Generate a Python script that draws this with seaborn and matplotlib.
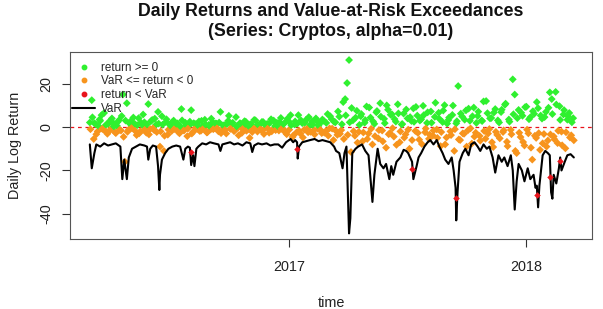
import numpy as np
import pandas as pd
import matplotlib
matplotlib.use("Agg")
import matplotlib.pyplot as plt
import seaborn as sns
from matplotlib.lines import Line2D

# all dates are stored as days after 2017-01-01
origin = pd.Timestamp("2017-01-01")

# daily log returns, two interleaved readings (every 3rd day) starting 2016-02-29
ret_step = 3
ret_first_day_a = -307
ret_first_day_b = -306

returns_a_2016a = [2.1, 12.4, -5.5, 1.3, -2.0, 3.5, 5.5, -1.2, 0.8, -3.1, 2.6, -0.7,
                   1.9, -2.4, 0.5, 3.2, -1.6, 15.0, -16.0, 11.0, -1.1, 2.8, -0.4, 1.5,
                   -3.7, 4.1, -1.9, 0.9, 2.2, -2.6, 10.6, -0.9, 3.3, -1.4, 1.1, 7.0]
returns_a_2016b = [-9.0, 5.0, -11.0, 2.4, -3.5, 1.2, -1.8, 3.0, -0.6, 1.7, -2.9, 8.3,
                   -1.3, 2.0, -4.2, 0.7, 7.8, -2.2, 1.4, -0.9, 2.6, -1.7, 0.4, 3.4,
                   -2.5, 1.0, -1.1, 2.2, -0.5, 1.6, -2.0, 7.0, -1.5, 0.9, -3.0, 2.9,
                   -0.8, 1.3, -1.9, 4.6, -0.3, 1.8, -2.7, 0.6, 2.5, -1.2, -5.0, 1.1,
                   -0.7, 3.1, -2.1, 0.8, -1.4, 2.3, -0.4, 1.5, -2.6, 3.6, -1.0, 0.5,
                   2.0, -1.6, 4.2, -0.6, 1.9, -3.3, 2.7, 5.5, -4.6, 1.2]
returns_a_2017a = [-2.5, 5.5, -3.0, 1.8, -1.2, 3.4, -2.4, 0.9, 2.6, -1.5, 4.0, -0.8,
                   1.6, -2.8, 2.9, -1.9, 6.0, -0.6, 3.7, -6.0, 2.2, -3.6, 4.8, -1.4,
                   11.5]
returns_a_2017b = [12.9, 20.3, 30.9, -11.5, 3.1, -4.0, 7.5, -2.2, 5.0, -6.5, 2.0, 9.5,
                   -3.0, 4.4, -8.0, 1.5, 6.8, -5.2, 11.0, -1.6, 3.8, -9.5, 8.0, -2.8,
                   5.9, -4.4, 2.5, 10.5, -7.0, 1.2, 6.2, -3.4, 4.0, -10.0, 2.8, 8.6,
                   -1.8, 5.3, -5.8, 3.6, 9.8, -2.4, 1.9, -5.4, 7.2, -3.9, 4.7, -1.1,
                   6.6, -8.8, 2.3, 10.1, -4.8, 3.3, -2.0, 5.6, -11.0, 1.7, 18.9, -6.0,
                   4.9, -3.1, 7.7, -1.5, 2.9, -7.6, 9.0, -2.6, 5.1, -4.1, 3.0, 11.8,
                   -5.4, 6.4, -0.9, 4.2, -9.2, 8.3, -3.6, 2.1, 6.9, -2.3, 10.3, -6.8,
                   3.5, -1.3, 22.0, 15.0, -12.0, 7.9, -4.6, 5.2, -8.5, 9.4, -2.9, 4.5,
                   -15.0, 6.1, -5.0, 8.7, -10.5, 3.9, -3.2, 7.0, -6.2, 16.0, 12.9, -4.3,
                   16.2, -7.4, 9.6, -2.1, 5.8, -9.8, 3.4, 6.5, -3.8, 4.1]

returns_b_2016a = [-1.0, 4.5, 1.8, -3.3, 0.6, 2.9, -0.8, 6.5, -2.1, 1.4, -1.5, 4.0,
                   0.3, -2.8, 2.4, -1.3, 5.1, -4.5, 3.0, -2.2, 1.7, -0.5, 4.4, -1.8,
                   0.9, -2.9, 2.0, 5.8, -1.1, 1.2, -3.4, 2.7, -0.6, 3.9, -2.3, 1.6]
returns_b_2016b = [-2.0, 1.1, -4.0, 3.6, -1.2, 0.7, 2.3, -0.9, 1.5, -2.2, 0.4, 3.1,
                   -1.6, 1.0, -0.7, 2.5, -3.0, 1.8, -0.4, 0.9, -1.8, 2.9, -0.6, 1.2,
                   -2.4, 0.5, 3.9, -1.0, 1.7, -0.5, 2.1, -2.8, 0.8, -1.3, 1.4, 5.2,
                   -0.8, 2.0, -1.5, 0.3, -3.8, 1.6, -0.9, 2.7, -1.7, 0.6, 1.3, -2.3,
                   3.3, -0.4, 1.0, -1.1, 2.4, -3.2, 0.7, -0.6, 1.9, -2.0, 3.0, -1.4,
                   0.5, 2.2, -0.8, 1.4, -2.5, 3.8, -1.2, 0.9, -3.9, 2.6]
returns_b_2017a = [1.5, -1.7, 3.1, -4.8, 2.0, -0.9, 4.6, -2.2, 1.1, -3.4, 2.8, 0.6,
                   -1.3, 3.5, -2.6, 1.9, -4.0, 5.0, -0.7, 2.4, -1.8, 7.2, -3.1, 1.3,
                   -5.5]
returns_b_2017b = [5.4, -3.6, 2.2, 8.8, -1.9, 4.3, -7.2, 1.0, 6.0, -2.5, 3.2, -5.5,
                   9.0, -0.8, 2.6, -4.2, 7.4, -1.4, 4.8, -6.6, 1.8, 10.0, -3.3, 5.7,
                   -0.5, 3.7, -8.2, 6.3, -2.0, 1.4, -4.9, 8.1, -1.2, 4.6, -6.0, 2.4,
                   9.3, -2.7, 3.0, -7.8, 5.5, -0.7, 6.8, -3.5, 2.0, -1.6, 11.2, -5.0,
                   3.8, -2.3, 7.6, -8.0, 1.6, 4.4, -3.7, 9.9, -1.0, 2.7, -5.7, 6.2,
                   -2.9, 3.4, -9.0, 8.5, -0.6, 5.0, -4.4, 1.9, 7.1, -6.3, 2.8, -1.8,
                   12.0, -3.0, 4.0, -7.0, 6.7, -2.2, 3.1, -5.2, 8.0, -1.5, 10.8, -8.8,
                   2.5, -3.3, 5.9, -11.0, 4.1, -2.6, 6.6, -6.9, 9.2, -1.2, 3.6, -9.5,
                   7.3, -4.0, 11.5, -2.8, 5.3, -7.5, 4.6, -9.0, 8.9, -3.4, 6.0, -5.6,
                   10.4, -1.7, 3.3, -8.4, 7.8, -2.4, 5.0, -4.8, 2.2, -6.1]

# returns below VaR (exceedances)
exceed_days = [-152, 12, 189, 256, 382, 402, 417]
exceed_values = [-11.5, -10.0, -19.5, -32.7, -31.2, -23.0, -15.7]

# Value-at-Risk line
var_days = [-307, -304, -300, -297, -291, -285, -279, -273, -267, -260, -257, -254,
            -251, -250, -247, -242, -236, -230, -223, -219, -217, -214, -210, -205,
            -202, -200, -199, -196, -191, -186, -180, -174, -168, -163, -160, -156,
            -153, -151, -148, -146, -143, -140, -134, -128, -122, -116, -109, -106,
            -103, -97, -91, -85, -79, -72, -66, -60, -57, -54, -48, -42,
            -35, -29, -23, -17, -11, -5, 2, 6, 9, 12, 13, 15,
            20, 26, 32, 39, 45, 51, 57, 63, 69, 72, 77, 82,
            85, 88, 91, 92, 94, 97, 102, 106, 112, 117, 122, 125,
            128, 131, 136, 140, 145, 149, 154, 157, 160, 165, 171, 176,
            180, 183, 186, 189, 191, 196, 199, 203, 208, 213, 217, 222,
            227, 231, 236, 240, 245, 250, 253, 256, 257, 259, 262, 267,
            271, 276, 280, 285, 290, 294, 299, 304, 308, 313, 317, 322,
            327, 331, 336, 341, 344, 347, 350, 353, 358, 362, 367, 371,
            376, 379, 381, 383, 385, 390, 394, 398, 401, 403, 405, 407,
            411, 415, 417, 419, 424, 428, 433, 438]
var_values = [-8, -19, -12, -8, -9, -7.5, -8.5, -8, -7.5, -9, -24, -15,
              -22, -24, -14, -10, -9, -8, -8.5, -9, -15, -10, -8.5, -9,
              -18, -29, -22, -15, -12, -10, -9, -8.5, -9, -15, -10, -9,
              -9.5, -17.5, -13, -18, -10, -9, -7.5, -8, -7, -7.5, -8, -11,
              -8, -7.5, -7, -8, -7.5, -8.5, -7, -7.5, -11.5, -8.5, -7.5, -8,
              -7.5, -8.5, -8, -8, -9.5, -7, -5.5, -7, -6, -7, -14.5, -9,
              -7, -6.5, -6, -5.5, -6.5, -6, -6.5, -7, -9, -11, -12, -19,
              -12, -9, -40, -49, -42, -12, -10, -9, -8, -11, -13, -24,
              -34.5, -22, -10, -17, -19, -17, -24, -18, -22, -16, -14, -10.5,
              -11, -12, -14, -16, -24, -18, -14, -12, -9, -7, -6, -8,
              -6, -9, -12, -15, -17, -14, -20, -28, -43, -30, -16, -12,
              -10, -13, -8, -7, -9, -11, -8, -10, -9, -14, -21, -13,
              -16, -14, -18, -13, -20, -38, -25, -17, -20, -25, -19, -24,
              -22, -28, -27, -37, -27, -13, -11, -12, -13, -30, -33, -22,
              -26, -19, -14, -20, -16, -13, -12.5, -14]

green = "#2ff02f"
orange = "#f7941d"
red = "#e8141c"

ret_a = np.array(returns_a_2016a + returns_a_2016b + returns_a_2017a + returns_a_2017b)
ret_b = np.array(returns_b_2016a + returns_b_2016b + returns_b_2017a + returns_b_2017b)
days = np.concatenate([ret_first_day_a + ret_step * np.arange(len(ret_a)),
                       ret_first_day_b + ret_step * np.arange(len(ret_b))])
returns = np.concatenate([ret_a, ret_b])
ret_df = pd.DataFrame({"date": origin + pd.to_timedelta(days, unit="D"), "ret": returns,
                       "kind": np.where(returns >= 0, "pos", "neg")})
var_df = pd.DataFrame({"date": origin + pd.to_timedelta(var_days, unit="D"), "var": var_values})
exc_df = pd.DataFrame({"date": origin + pd.to_timedelta(exceed_days, unit="D"), "ret": exceed_values})

sns.set_theme(style="ticks")
plt.rcParams["font.family"] = ["Liberation Sans", "DejaVu Sans"]

fig = plt.figure(figsize=(6.03, 3.09), dpi=100)
ax = fig.add_axes([0.1161, 0.2265, 0.8657, 0.6052])

sns.scatterplot(data=ret_df, x="date", y="ret", hue="kind",
                palette={"pos": green, "neg": orange}, marker="D", s=16,
                linewidth=0, legend=False, ax=ax, zorder=2)
sns.lineplot(data=var_df, x="date", y="var", color="black", linewidth=1.5, ax=ax, zorder=3)
sns.scatterplot(data=exc_df, x="date", y="ret", color=red, marker="D", s=11,
                linewidth=0, legend=False, ax=ax, zorder=4)
ax.axhline(0, color=red, linestyle=(0, (3, 3)), linewidth=0.9, zorder=1)

ax.set_xlim(pd.Timestamp("2016-01-29 12:00"), pd.Timestamp("2018-04-12"))
ax.set_ylim(-51.6, 34.6)
ax.set_yticks([-40, -20, 0, 20])
ax.set_yticklabels(["-40", "-20", "0", "20"], rotation=90, va="center")
ax.set_xticks([pd.Timestamp("2017-01-01"), pd.Timestamp("2018-01-01")])
ax.set_xticklabels(["2017", "2018"])
ax.tick_params(axis="both", direction="out", length=5.8, width=0.8, color="#333333",
               labelsize=10.4, labelcolor="#222222")
ax.tick_params(axis="x", pad=9)
ax.tick_params(axis="y", pad=6)
for sp in ax.spines.values():
    sp.set_visible(True)
    sp.set_color("#555555")
    sp.set_linewidth(0.8)

ax.set_xlabel("time", fontsize=10.4, color="#222222", labelpad=16)
ax.set_ylabel("Daily Log Return", fontsize=10.4, color="#222222", labelpad=13)

fig.text(0.549, 1 - 11 / 309, "Daily Returns and Value-at-Risk Exceedances",
         ha="center", va="center", fontsize=12.8, fontweight="bold", color="#111111")
fig.text(0.549, 1 - 31 / 309, "(Series: Cryptos, alpha=0.01)",
         ha="center", va="center", fontsize=12.8, fontweight="bold", color="#111111")

handles = [
    Line2D([], [], linestyle="none", marker="o", markersize=3.2, color=green),
    Line2D([], [], linestyle="none", marker="o", markersize=3.2, color=orange),
    Line2D([], [], linestyle="none", marker="o", markersize=3.2, color=red),
    Line2D([], [], color="black", linewidth=1.5),
]
labels = ["return >= 0", "VaR <= return < 0", "return < VaR", "VaR"]
ax.legend(handles, labels, loc="upper left", bbox_to_anchor=(0.004, 0.948),
          frameon=False, fontsize=8.4, handlelength=2.0, handletextpad=0.5,
          labelspacing=0.15, borderaxespad=0, borderpad=0)

fig.savefig("out.png", dpi=100)
